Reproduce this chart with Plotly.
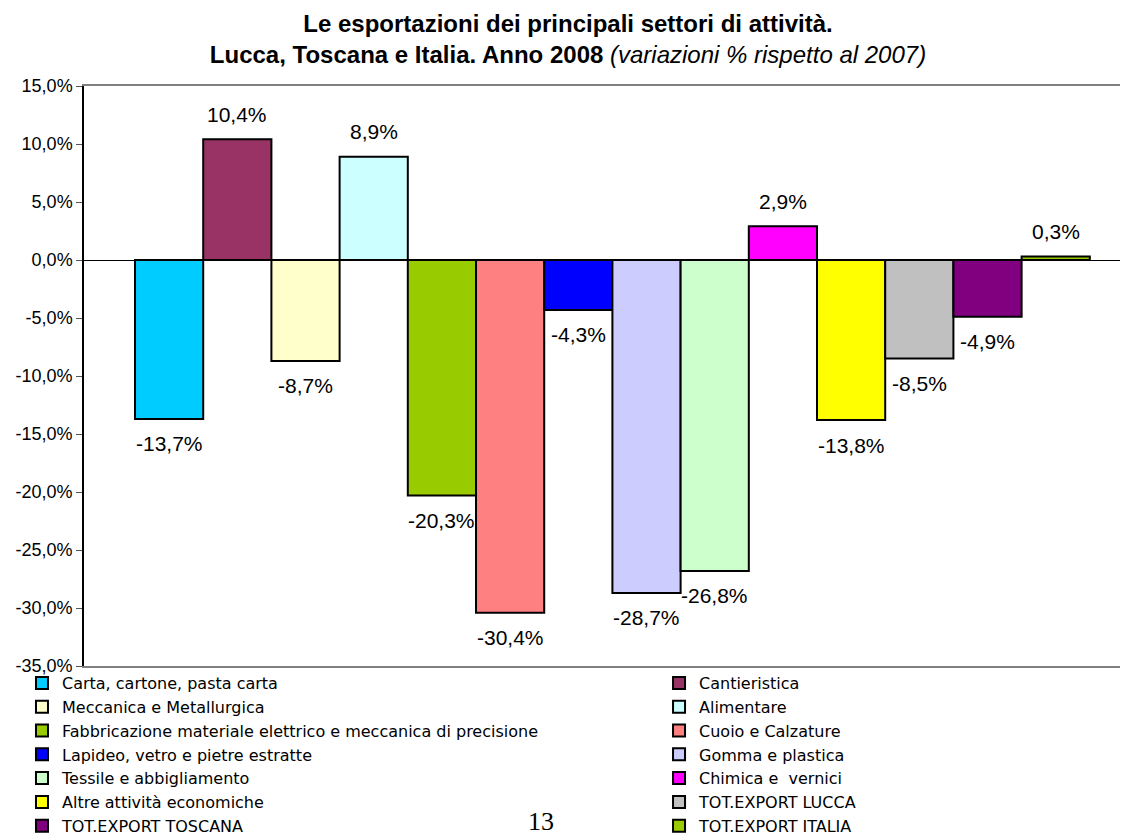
import plotly.graph_objects as go

# Esportazioni per settore, Lucca 2008 (variazioni % rispetto al 2007)
settori = ['Carta, cartone, pasta carta', 'Cantieristica', 'Meccanica e Metallurgica',
           'Alimentare', 'Fabbricazione materiale elettrico e meccanica di precisione',
           'Cuoio e Calzature', 'Lapideo, vetro e pietre estratte', 'Gomma e plastica',
           'Tessile e abbigliamento', 'Chimica e  vernici', 'Altre attività economiche',
           'TOT.EXPORT LUCCA', 'TOT.EXPORT TOSCANA', 'TOT.EXPORT ITALIA']
variazioni = [-13.7, 10.4, -8.7, 8.9, -20.3, -30.4, -4.3, -28.7, -26.8, 2.9, -13.8, -8.5, -4.9, 0.3]
colori = ['#00CCFF', '#993366', '#FFFFCC', '#CCFFFF', '#99CC00', '#FF8080', '#0000FF',
          '#CCCCFF', '#CCFFCC', '#FF00FF', '#FFFF00', '#C0C0C0', '#800080', '#99CC00']
y_ticks = [15, 10, 5, 0, -5, -10, -15, -20, -25, -30, -35]
y_tick_labels = ['15,0%', '10,0%', '5,0%', '0,0%', '-5,0%', '-10,0%', '-15,0%',
                 '-20,0%', '-25,0%', '-30,0%', '-35,0%']

FONT = 'Liberation Sans, Arial, sans-serif'

fig = go.Figure()
for i, (nome, v, c) in enumerate(zip(settori, variazioni, colori)):
    # colonna sinistra della legenda = serie dispari, destra = pari
    fig.add_trace(go.Bar(x=[i], y=[v], name=nome, width=1,
                         legend='legend' if i % 2 == 0 else 'legend2',
                         marker=dict(color=c, line=dict(color='black', width=2))))
    # etichette dati sopra/sotto la barra
    fig.add_annotation(x=i, y=v, text=f'{v:.1f}%'.replace('.', ','),
                       showarrow=False, yshift=25 if v >= 0 else -25,
                       font=dict(size=21, color='black', family=FONT))

# numero di pagina
fig.add_annotation(x=0.4377, y=-0.296, xref='paper', yref='paper', text='13',
                   showarrow=False, font=dict(size=26, color='black',
                                              family='Liberation Serif, Times New Roman, serif'))

leg_style = dict(orientation='v', yanchor='top', y=0, xanchor='left',
                 font=dict(size=16, color='black', family='DejaVu Sans, sans-serif'),
                 bgcolor='rgba(0,0,0,0)', tracegroupgap=0)

# la pagina ha 8px di margine: figura leggermente più piccola della finestra
fig.update_layout(
    width=1120, height=829,
    margin=dict(l=76, r=0, t=78, b=171, autoexpand=False),
    paper_bgcolor='white', plot_bgcolor='white',
    barmode='overlay',
    font=dict(family=FONT, color='black'),
    title=dict(text='<b>Le esportazioni dei principali settori di attività.<br>'
                    'Lucca, Toscana e Italia. Anno 2008</b> <i>(variazioni % rispetto al 2007)</i>',
               x=0.5, xanchor='center', xref='container', y=0.971, yref='container',
               yanchor='middle', font=dict(size=24, color='black', family=FONT)),
    xaxis=dict(range=[-1.248, 14.06], showticklabels=False, ticks='', showgrid=False,
               zeroline=False, showline=True, linecolor='#808080', linewidth=2, mirror=True),
    yaxis=dict(range=[-35, 15], tickvals=y_ticks, ticktext=y_tick_labels,
               showgrid=False, zeroline=True, zerolinecolor='black', zerolinewidth=1,
               showline=True, linecolor='black', linewidth=1.5, ticks='outside',
               ticklen=6, tickcolor='#555555', tickfont=dict(size=18)),
    legend=dict(x=-0.0594, **leg_style),
    legend2=dict(x=0.5508, **leg_style),
    showlegend=True,
)

fig.write_html('out.html')
